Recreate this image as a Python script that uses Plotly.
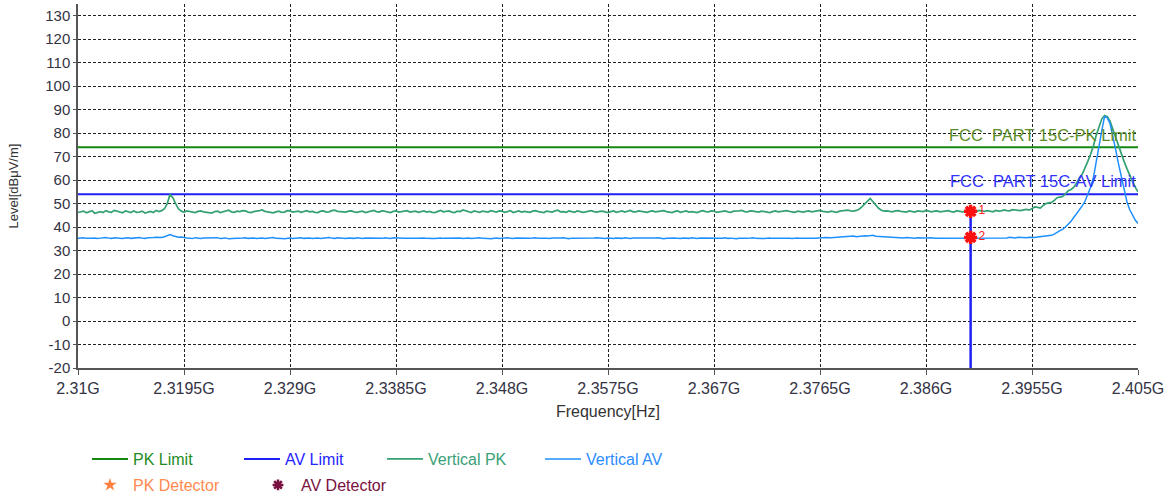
import numpy as np
import plotly.graph_objects as go

# Sweep: 2.310 GHz .. 2.405 GHz, 0.25 MHz step (381 points)
FREQ_HZ = np.linspace(2.310e9, 2.405e9, 381)

# Vertical polarisation, peak detector [dBuV/m]
VERT_PK = [
    46.2, 46.6, 46.8, 46.1, 46.4, 47.0, 45.9, 46.4, 46.6, 46.2, 47.0, 46.5, 46.3, 47.1, 46.7, 46.3, 46.1, 46.9, 46.5, 46.2,
    46.9, 46.3, 46.4, 46.8, 46.0, 46.5, 46.7, 46.2, 47.1, 46.6, 47.0, 47.8, 50.0, 54.0, 52.5, 50.0, 47.8, 46.8, 46.4, 46.9,
    46.6, 46.3, 46.2, 46.7, 46.9, 46.5, 46.4, 46.1, 46.0, 46.6, 46.8, 46.2, 46.5, 46.9, 47.2, 46.5, 46.3, 46.8, 46.6, 47.0,
    46.9, 46.4, 46.2, 46.6, 46.7, 47.0, 47.3, 46.7, 46.5, 46.2, 46.1, 46.5, 46.8, 46.3, 46.4, 47.0, 46.9, 46.4, 46.6, 46.8,
    46.3, 46.7, 47.0, 46.5, 46.7, 46.3, 46.2, 46.8, 46.9, 46.4, 46.5, 47.0, 47.2, 46.7, 46.6, 46.2, 46.4, 46.8, 46.9, 46.5,
    46.3, 46.6, 46.8, 46.2, 46.5, 46.9, 47.1, 46.6, 46.4, 47.0, 46.7, 46.3, 46.2, 46.7, 46.9, 46.4, 46.6, 46.8, 47.0, 46.4,
    46.5, 46.8, 46.3, 46.6, 46.9, 46.4, 46.7, 46.3, 46.2, 46.7, 47.1, 46.5, 46.6, 46.9, 46.4, 46.2, 46.8, 46.6, 47.3, 46.9,
    46.5, 46.2, 46.9, 46.6, 46.3, 46.8, 46.7, 46.4, 47.0, 46.6, 46.4, 46.9, 46.8, 46.3, 46.6, 47.0, 46.2, 46.5, 46.9, 46.4,
    46.7, 46.5, 46.3, 46.8, 47.0, 46.6, 46.5, 46.2, 46.8, 46.7, 46.4, 46.9, 47.2, 46.5, 46.6, 46.3, 46.9, 46.6, 46.3, 46.9,
    46.7, 46.3, 46.5, 46.9, 47.0, 46.6, 46.4, 46.7, 46.8, 46.5, 46.2, 46.6, 46.9, 46.3, 46.6, 46.9, 46.4, 46.7, 47.1, 46.5,
    46.5, 46.9, 46.8, 46.4, 46.3, 46.7, 46.9, 46.5, 46.6, 46.8, 47.0, 46.6, 46.4, 46.2, 46.7, 46.9, 46.3, 46.6, 46.9, 46.4,
    46.6, 46.4, 46.2, 46.7, 47.0, 46.6, 46.5, 46.9, 46.8, 46.3, 46.4, 46.7, 46.9, 46.5, 46.3, 46.8, 46.7, 46.9, 47.1, 46.6,
    46.5, 46.9, 46.8, 46.5, 46.4, 46.8, 46.7, 46.4, 46.2, 46.6, 46.9, 46.5, 46.6, 46.9, 47.0, 46.7, 46.5, 46.3, 46.8, 46.7,
    46.4, 46.7, 46.9, 46.5, 46.6, 46.8, 47.1, 46.7, 46.5, 46.4, 46.8, 46.6, 46.3, 46.8, 46.9, 47.0, 47.2, 46.9, 46.8, 47.1,
    47.6, 48.6, 49.8, 51.2, 52.2, 50.8, 49.2, 48.0, 47.2, 46.8, 46.9, 46.6, 46.5, 46.9, 47.0, 46.7, 46.6, 46.4, 46.9, 46.6,
    46.4, 46.9, 46.8, 46.6, 47.1, 46.7, 46.5, 46.8, 46.9, 46.5, 46.6, 46.9, 47.0, 46.6, 46.4, 47.0, 46.8, 46.5, 46.7, 47.0,
    46.7, 46.9, 46.6, 47.1, 46.9, 46.7, 47.0, 46.8, 46.5, 47.1, 46.8, 46.9, 47.3, 47.0, 46.9, 47.4, 47.2, 46.9, 47.0, 47.3,
    47.5, 47.2, 47.9, 48.6, 48.4, 48.1, 49.2, 50.0, 50.3, 50.5, 51.4, 52.5, 52.8, 53.0, 54.2, 55.5, 56.0, 57.0, 58.8, 61.0,
    62.5, 65.0, 68.0, 71.0, 74.5, 79.0, 83.0, 86.0, 87.5, 87.0, 85.0, 81.5, 78.0, 74.5, 71.0, 68.0, 65.0, 62.0, 59.5, 57.0, 55.0,
]

# Vertical polarisation, average detector [dBuV/m]
VERT_AV = [
    35.2, 35.4, 35.5, 35.2, 35.1, 35.3, 35.4, 35.1, 35.3, 35.5, 35.6, 35.3, 35.2, 35.5, 35.4, 35.2, 35.1, 35.4, 35.5, 35.2,
    35.3, 35.4, 35.6, 35.3, 35.2, 35.5, 35.4, 35.6, 35.7, 35.5, 35.6, 35.9, 36.2, 36.8, 36.3, 36.0, 35.7, 35.8, 35.5, 35.4,
    35.3, 35.1, 35.5, 35.3, 35.1, 35.4, 35.4, 35.2, 35.2, 35.4, 35.5, 35.1, 35.3, 35.4, 35.0, 35.2, 35.4, 35.3, 35.2, 35.4,
    35.5, 35.2, 35.3, 35.4, 35.1, 35.3, 35.4, 35.1, 35.2, 35.4, 35.6, 35.2, 35.3, 35.1, 35.0, 35.3, 35.4, 35.1, 35.2, 35.3,
    35.5, 35.2, 35.3, 35.4, 35.1, 35.3, 35.4, 35.1, 35.3, 35.4, 35.6, 35.3, 35.2, 35.5, 35.4, 35.2, 35.1, 35.4, 35.3, 35.2,
    35.5, 35.3, 35.2, 35.4, 35.4, 35.2, 35.1, 35.4, 35.3, 35.2, 35.5, 35.3, 35.2, 35.5, 35.4, 35.1, 35.0, 35.2, 35.3, 35.4,
    35.5, 35.3, 35.2, 35.4, 35.4, 35.2, 35.3, 35.1, 35.1, 35.3, 35.4, 35.2, 35.2, 35.4, 35.5, 35.2, 35.3, 35.4, 35.1, 35.3,
    35.4, 35.1, 35.2, 35.4, 35.5, 35.2, 35.3, 35.1, 35.0, 35.3, 35.4, 35.1, 35.2, 35.4, 35.5, 35.2, 35.1, 35.4, 35.3, 35.2,
    35.4, 35.3, 35.2, 35.4, 35.5, 35.2, 35.1, 35.3, 35.3, 35.1, 35.4, 35.3, 35.2, 35.4, 35.5, 35.2, 35.0, 35.3, 35.3, 35.2,
    35.4, 35.2, 35.1, 35.3, 35.3, 35.4, 35.5, 35.3, 35.2, 35.1, 35.4, 35.2, 35.1, 35.4, 35.3, 35.2, 35.5, 35.3, 35.2, 35.4,
    35.4, 35.2, 35.1, 35.3, 35.3, 35.1, 35.2, 35.4, 35.5, 35.2, 35.0, 35.2, 35.3, 35.1, 35.4, 35.2, 35.1, 35.4, 35.3, 35.2,
    35.5, 35.3, 35.2, 35.4, 35.4, 35.2, 35.1, 35.3, 35.3, 35.4, 35.2, 35.3, 35.5, 35.2, 35.3, 35.1, 35.0, 35.2, 35.4, 35.3,
    35.2, 35.4, 35.5, 35.2, 35.3, 35.1, 35.1, 35.3, 35.4, 35.2, 35.2, 35.4, 35.5, 35.3, 35.3, 35.2, 35.1, 35.3, 35.4, 35.2,
    35.3, 35.4, 35.5, 35.3, 35.2, 35.4, 35.4, 35.5, 35.6, 35.4, 35.5, 35.6, 35.7, 35.8, 35.9, 35.7, 36.0, 36.1, 36.2, 35.9,
    36.1, 36.4, 36.3, 36.2, 36.4, 36.5, 36.1, 36.0, 35.9, 35.8, 35.7, 35.6, 35.5, 35.7, 35.6, 35.4, 35.4, 35.6, 35.5, 35.3,
    35.3, 35.5, 35.6, 35.4, 35.4, 35.6, 35.5, 35.3, 35.3, 35.5, 35.6, 35.4, 35.4, 35.6, 35.5, 35.4, 35.3, 35.5, 35.6, 35.4,
    35.6, 35.5, 35.4, 35.6, 35.5, 35.4, 35.3, 35.5, 35.6, 35.5, 35.4, 35.6, 35.5, 35.4, 35.7, 35.5, 35.4, 35.7, 35.6, 35.5,
    35.5, 35.7, 35.6, 35.6, 35.8, 35.9, 36.0, 36.2, 36.3, 36.5, 37.0, 37.8, 38.5, 39.0, 40.0, 41.2, 42.5, 44.0, 45.5, 47.0,
    49.0, 51.0, 54.0, 57.0, 61.0, 68.0, 74.0, 81.0, 87.0, 86.5, 84.0, 79.0, 73.0, 67.0, 62.0, 56.0, 51.0, 47.5, 45.0, 43.0, 41.5,
]

# FCC Part 15C limits [dBuV/m]
PK_LIMIT = 74
AV_LIMIT = 54

# Band-edge markers
MARKER_FREQ = [2.390e9, 2.390e9]
MARKER_LEVEL = [46.7, 35.6]
MARKER_NAMES = ["1", "2"]

X_TICK_VALUES = [2.31e9, 2.3195e9, 2.329e9, 2.3385e9, 2.348e9, 2.3575e9,
                 2.367e9, 2.3765e9, 2.386e9, 2.3955e9, 2.405e9]
X_TICK_LABELS = ["2.31G", "2.3195G", "2.329G", "2.3385G", "2.348G", "2.3575G",
                 "2.367G", "2.3765G", "2.386G", "2.3955G", "2.405G"]
Y_TICK_VALUES = [-20, -10, 0, 10, 20, 30, 40, 50, 60, 70, 80, 90, 100, 110, 120, 130]
Y_TICK_LABELS = ["-20", "-10", "0", "10", "20", "30", "40", "50", "60", "70",
                 "80", "90", "100", "110", "120", "130"]

C_PK_LIM = "#138913"
C_AV_LIM = "#2020F5"
C_VPK = "#34A172"
C_VAV = "#1E8FFF"
C_PK_DET = "#FF7F3F"
C_AV_DET = "#7A1040"
C_MARK = "#FF1010"

FONT = "Arial, 'Liberation Sans', sans-serif"
W, H = 1176, 497

f_lo, f_hi = X_TICK_VALUES[0], X_TICK_VALUES[-1]

fig = go.Figure()

def colored(name, color):
    return f'<span style="color:{color}">{name}</span>'

fig.add_trace(go.Scatter(x=[f_lo, f_hi], y=[PK_LIMIT, PK_LIMIT], mode="lines",
                         line=dict(color=C_PK_LIM, width=2),
                         name=colored("PK Limit", "#1E8C1E"), legend="legend"))
fig.add_trace(go.Scatter(x=[f_lo, f_hi], y=[AV_LIMIT, AV_LIMIT], mode="lines",
                         line=dict(color=C_AV_LIM, width=2),
                         name=colored("AV Limit", "#2424FF"), legend="legend2"))
fig.add_trace(go.Scatter(x=FREQ_HZ, y=VERT_PK, mode="lines",
                         line=dict(color=C_VPK, width=1.7),
                         name=colored("Vertical PK", "#3AA078"), legend="legend3"))
fig.add_trace(go.Scatter(x=FREQ_HZ, y=VERT_AV, mode="lines",
                         line=dict(color=C_VAV, width=1.5),
                         name=colored("Vertical AV", "#2C8CFF"), legend="legend4"))
# detector entries (legend keys)
fig.add_trace(go.Scatter(x=[None], y=[None], mode="markers",
                         marker=dict(symbol="star", size=10, color=C_PK_DET),
                         name=colored("PK Detector", "#FF8A50"), legend="legend5"))
fig.add_trace(go.Scatter(x=[None], y=[None], mode="markers",
                         marker=dict(symbol="asterisk-open", size=9, color=C_AV_DET,
                                     line=dict(color=C_AV_DET, width=2.5)),
                         name=colored("AV Detector", C_AV_DET), legend="legend6"))

# band-edge line at the marker frequency
fig.add_trace(go.Scatter(x=[MARKER_FREQ[0], MARKER_FREQ[0]], y=[-20, MARKER_LEVEL[0]],
                         mode="lines", line=dict(color=C_AV_LIM, width=2.5),
                         showlegend=False, hoverinfo="skip"))
fig.add_trace(go.Scatter(x=MARKER_FREQ, y=MARKER_LEVEL, mode="markers+text",
                         marker=dict(symbol="asterisk-open", size=11, color=C_MARK,
                                     line=dict(color=C_MARK, width=3.5)),
                         text=MARKER_NAMES, textposition="middle right",
                         textfont=dict(color="#FF2020", size=12, family=FONT),
                         showlegend=False))

fig.add_annotation(x=f_hi, y=PK_LIMIT, xref="x", yref="y", xanchor="right", yanchor="bottom",
                   text="FCC\u00a0 PART 15C-PK Limit", showarrow=False, yshift=1,
                   font=dict(color="#5B8C28", size=16.5, family=FONT))
fig.add_annotation(x=f_hi, y=AV_LIMIT, xref="x", yref="y", xanchor="right", yanchor="bottom",
                   text="FCC\u00a0 PART 15C-AV Limit", showarrow=False, yshift=2,
                   font=dict(color="#3333FF", size=16.5, family=FONT))

grid = dict(showgrid=True, gridcolor="#222222", gridwidth=1, griddash="3px,2px",
            zeroline=False, showline=True, linecolor="#555555", linewidth=1.5,
            ticks="outside", tickcolor="#555555")

fig.update_xaxes(range=[f_lo, f_hi], tickvals=X_TICK_VALUES, ticktext=X_TICK_LABELS,
                 ticklen=5, tickfont=dict(size=16, color="#333344", family=FONT),
                 title=dict(text="Frequency[Hz]", standoff=10,
                            font=dict(size=16, color="#333333", family=FONT)),
                 **grid)
fig.update_yaxes(range=[-20, 135], tickvals=Y_TICK_VALUES, ticktext=Y_TICK_LABELS,
                 ticklen=3, tickfont=dict(size=15, color="#333344", family=FONT),
                 title=dict(text="Level[dBμV/m]", standoff=24,
                            font=dict(size=13, color="#333333", family=FONT)),
                 **grid)

def legend_at(px, py):
    return dict(xref="container", yref="container", x=px / W, y=1 - py / H,
                xanchor="left", yanchor="middle", orientation="h",
                bgcolor="rgba(0,0,0,0)", borderwidth=0, itemwidth=36,
                font=dict(size=16, family=FONT))

fig.update_layout(
    width=W, height=H,
    margin=dict(l=78, r=38, t=4, b=129),
    paper_bgcolor="white", plot_bgcolor="white",
    font=dict(family=FONT),
    legend=legend_at(87, 459),
    legend2=legend_at(239, 459),
    legend3=legend_at(382, 459),
    legend4=legend_at(540, 459),
    legend5=legend_at(87, 485),
    legend6=legend_at(255, 485),
)

fig.write_html("out.html")
